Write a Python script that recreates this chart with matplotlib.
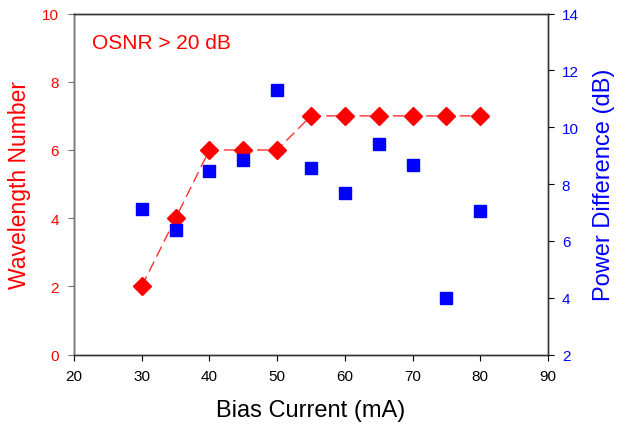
import matplotlib.pyplot as plt

plt.rcParams['font.family'] = ['Liberation Sans', 'DejaVu Sans']

bias_current = [30, 35, 40, 45, 50, 55, 60, 65, 70, 75, 80]
wavelength_number = [2, 4, 6, 6, 6, 7, 7, 7, 7, 7, 7]
power_difference = [7.14, 6.39, 8.46, 8.86, 11.31, 8.57, 7.68, 9.42, 8.67, 4.0, 7.06]

fig = plt.figure(figsize=(6.17, 4.27), dpi=100)
ax = fig.add_axes([0.12, 0.167, 0.768, 0.799])
ax2 = ax.twinx()

# red: wavelength count, dashed line with diamonds
ax.plot(bias_current, wavelength_number, color='#ff3030', lw=1, dashes=(8, 4),
        marker='D', markersize=9, markeredgecolor='red', markerfacecolor='red', zorder=3)
# blue: power difference on right axis
ax2.plot(bias_current, power_difference, 's', color='blue', markersize=8, linestyle='none')

ax.set_xlim(20, 90)
ax.set_ylim(0, 10)
ax2.set_ylim(2, 14)
ax.set_xticks(range(20, 91, 10))
ax.set_yticks(range(0, 11, 2))
ax2.set_yticks(range(2, 15, 2))

ax.set_xlabel("Bias Current (mA)", fontsize=17, labelpad=12)
ax.set_ylabel("Wavelength Number", fontsize=16.5, color='red', labelpad=8)
ax2.set_ylabel("Power Difference (dB)", fontsize=17, color='blue', labelpad=10)

ax.tick_params(axis='x', direction='out', length=4, labelsize=11, pad=6)
ax.tick_params(axis='y', direction='out', length=4, labelsize=11, labelcolor='red', pad=7, color='#777777')
ax2.tick_params(axis='y', direction='out', length=4, labelsize=11, labelcolor='blue', pad=6)

for a in (ax, ax2):
    for s in a.spines.values():
        s.set_linewidth(1)
        s.set_color('#333333')
ax2.spines['left'].set_color('#777777')

ax.text(0.038, 0.9, "OSNR > 20 dB", transform=ax.transAxes, fontsize=15, color='red')

plt.savefig("out.png", dpi=100)
